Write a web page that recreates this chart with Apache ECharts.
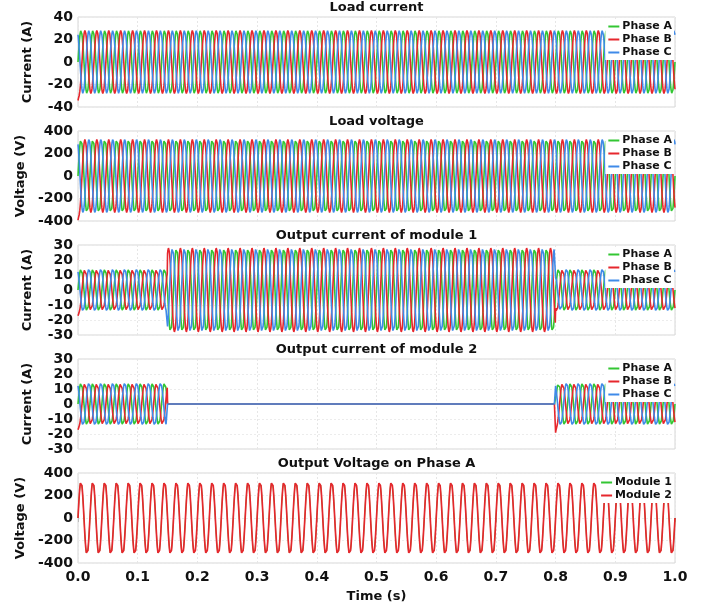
<!DOCTYPE html>
<html>
<head>
<meta charset="utf-8">
<script src="https://cdn.jsdelivr.net/npm/echarts@6/dist/echarts.min.js"></script>
<style>
  html, body { margin: 0; padding: 0; background: #fff; }
  #chart { width: 712px; height: 607px; }
</style>
</head>
<body>
<div id="chart"></div>
<script>
// ---- waveform parameters ----
const supplyFrequencyHz = 50;
const timeSpan = [0, 1.0];
const sampleStep = 0.0005;

const phaseNames = ['Phase A', 'Phase B', 'Phase C'];
const phaseShiftDeg = [0, -120, 120];
const phaseColors = ['#33c633', '#e6272d', '#3f8ae8'];

const moduleNames = ['Module 1', 'Module 2'];
const moduleColors = ['#33c633', '#e6272d'];
const moduleLineWidths = [1.0, 1.7];

// switching instants of the two converter modules (s)
const switchTimes = [0, 0.15, 0.8, 1.0];

// peak values per switching interval
const loadCurrentPeaks = [28, 28, 28];
const loadVoltagePeaks = [325, 325, 325];
const module1CurrentPeaks = [14, 28, 14];
const module2CurrentPeaks = [14, 0, 14];
const outputVoltagePeaks = [325, 325];

// decaying start-up / switching offsets: [time, phase index, offset]
const loadCurrentKicks = [[0, 1, -10]];
const loadVoltageKicks = [[0, 1, -110]];
const module1Kicks = [[0, 1, -5], [0.8, 2, -4]];
const module2Kicks = [[0, 1, -5], [0.8, 1, -7], [0.8, 0, 4]];
const kickDecay = 0.0012;

// panel texts and axes
const panelTitles = ['Load current', 'Load voltage', 'Output current of module 1',
                     'Output current of module 2', 'Output Voltage on Phase A'];
const panelYNames = ['Current (A)', 'Voltage (V)', 'Current (A)', 'Current (A)', 'Voltage (V)'];
const panelYMin = [-40, -400, -30, -30, -400];
const panelYMax = [40, 400, 30, 30, 400];
const panelYStep = [20, 200, 10, 10, 200];

function segmentIndex(t) {
  for (let k = 1; k < switchTimes.length; k++) {
    if (t < switchTimes[k]) return k - 1;
  }
  return switchTimes.length - 2;
}

function buildPhase(peakFor, phase, kicks) {
  const pts = [];
  const n = Math.round((timeSpan[1] - timeSpan[0]) / sampleStep);
  const w = 2 * Math.PI * supplyFrequencyHz;
  const shift = phaseShiftDeg[phase] * Math.PI / 180;
  for (let i = 0; i <= n; i++) {
    const t = +(timeSpan[0] + i * sampleStep).toFixed(4);
    let v = peakFor(t) * Math.sin(w * t + shift);
    kicks.forEach(([t0, p, off]) => {
      if (p === phase && t >= t0 && peakFor(t) > 0) v += off * Math.exp(-(t - t0) / kickDecay);
    });
    pts.push([t, +v.toFixed(3)]);
  }
  return pts;
}

const FONT = 'DejaVu Sans';
const gridTops = [17, 131, 245, 359, 473];
const gridHeight = 90;
const gridLeft = 78;
const gridRight = 37;
const last = gridTops.length - 1;

const grids = gridTops.map(top => ({
  left: gridLeft, right: gridRight, top: top, height: gridHeight,
  show: true, borderColor: '#d6d6d6', borderWidth: 1, backgroundColor: '#fff'
}));

const xAxes = gridTops.map((_, i) => ({
  type: 'value', gridIndex: i, min: 0, max: 1, interval: 0.1,
  axisLine: { show: false },
  axisTick: { show: i === last, length: 4, lineStyle: { color: '#bdbdbd' } },
  axisLabel: {
    show: i === last, margin: 7, fontFamily: FONT, fontWeight: 'bold', fontSize: 14, color: '#111',
    formatter: v => v.toFixed(1)
  },
  splitLine: { show: true, lineStyle: { color: '#e6e6e6', type: [2, 2] } },
  name: i === last ? 'Time (s)' : '', nameLocation: 'middle', nameGap: 27,
  nameTextStyle: { fontFamily: FONT, fontWeight: 'bold', fontSize: 13, color: '#111' }
}));

const yAxes = gridTops.map((_, i) => ({
  type: 'value', gridIndex: i, min: panelYMin[i], max: panelYMax[i], interval: panelYStep[i],
  axisLine: { show: false }, axisTick: { show: false },
  axisLabel: { margin: 5, fontFamily: FONT, fontWeight: 'bold', fontSize: 14, color: '#111' },
  splitLine: { show: true, lineStyle: { color: '#ececec', type: [2, 2] } },
  name: panelYNames[i], nameLocation: 'middle', nameGap: 44,
  nameTextStyle: { fontFamily: FONT, fontWeight: 'bold', fontSize: 13, color: '#111' }
}));

const titles = panelTitles.map((txt, i) => ({
  text: txt, left: gridLeft + (712 - gridLeft - gridRight) / 2, textAlign: 'center',
  top: gridTops[i] - 16, padding: 0,
  textStyle: { fontFamily: FONT, fontWeight: 'bold', fontSize: 13, color: '#111' }
}));

const legends = gridTops.map((top, i) => ({
  data: i === last ? moduleNames : phaseNames,
  orient: 'vertical', align: 'left', right: gridRight + 1, top: top + 2,
  backgroundColor: '#fff', padding: [1, 2, 1, 3], itemGap: 0,
  icon: 'rect', itemWidth: 11, itemHeight: 2,
  textStyle: { fontFamily: FONT, fontWeight: 'bold', fontSize: 11, color: '#111', lineHeight: 13, padding: [0, 0, 0, -2] }
}));

const series = [];
function addPhases(gridIdx, peakFor, kicks) {
  phaseNames.forEach((name, p) => {
    series.push({
      name: name, type: 'line', xAxisIndex: gridIdx, yAxisIndex: gridIdx,
      showSymbol: false, symbol: 'none', animation: false,
      color: phaseColors[p], lineStyle: { width: 1.6, color: phaseColors[p] },
      data: buildPhase(peakFor, p, kicks)
    });
  });
}
addPhases(0, t => loadCurrentPeaks[segmentIndex(t)], loadCurrentKicks);
addPhases(1, t => loadVoltagePeaks[segmentIndex(t)], loadVoltageKicks);
addPhases(2, t => module1CurrentPeaks[segmentIndex(t)], module1Kicks);
addPhases(3, t => module2CurrentPeaks[segmentIndex(t)], module2Kicks);
moduleNames.forEach((name, m) => {
  series.push({
    name: name, type: 'line', xAxisIndex: last, yAxisIndex: last,
    showSymbol: false, symbol: 'none', animation: false,
    color: moduleColors[m], lineStyle: { width: moduleLineWidths[m], color: moduleColors[m] },
    data: buildPhase(() => outputVoltagePeaks[m], 0, [])
  });
});

const chart = echarts.init(document.getElementById('chart'), null, { renderer: 'canvas' });
chart.setOption({
  backgroundColor: '#fff',
  animation: false,
  title: titles,
  legend: legends,
  grid: grids,
  xAxis: xAxes,
  yAxis: yAxes,
  series: series
});
</script>
</body>
</html>
